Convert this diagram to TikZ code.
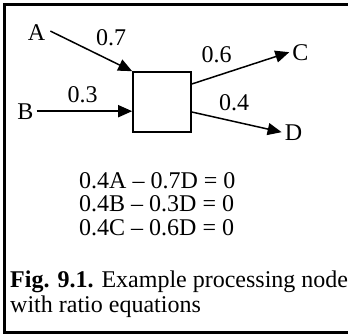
\documentclass[tikz,border=0pt]{standalone}
\usepackage{fontspec}
\setmainfont{Liberation Serif}
\usetikzlibrary{arrows.meta}

\tikzset{
  flow/.style={line width=1.5pt,-{Triangle[length=14pt,width=12pt]}},
  lbl/.style={anchor=base,inner sep=3pt,font=\fontsize{24}{26}\selectfont},
  txt/.style={anchor=base west,inner sep=0pt,font=\fontsize{24}{26}\selectfont}
}

\begin{document}
\begin{tikzpicture}[x=1pt,y=-1pt]
            \useasboundingbox (0,0) rectangle (348,335);
            \draw[line width=3.5pt] (352,4.5) -- (4.5,4.5) -- (4.5,332.5) -- (352,332.5);
            % processing node
            \node[draw,line width=1.6pt,minimum width=58pt,minimum height=60pt,inner sep=0pt] (proc) at (162,102) {};
            \node[lbl] (A) at (36.5,40) {A};
            \node[lbl] (B) at (25.5,119) {B};
            \node[lbl] (C) at (300.5,60) {C};
            \node[lbl] (D) at (293.5,140) {D};
            \draw[flow] (A.east) ++(2,-1) -- (proc.north west);
            \draw[flow] (B.east) -- (B.east -| proc.west);
            \draw[flow] ([yshift=18pt]proc.east) -- (C.west);
            \draw[flow] ([yshift=-10pt]proc.east) -- (D.west);
            \node[lbl] (wa) at (111,45) {0.7};
            \node[lbl] (wb) at (82.5,102) {0.3};
            \node[lbl] (wc) at (216.5,62) {0.6};
            \node[lbl] (wd) at (234,110) {0.4};
            % ratio equations
            \foreach \eq [count=\i] in {{0.4A -- 0.7D = 0},{0.4B -- 0.3D = 0},{0.4C -- 0.6D = 0}}
              \node[txt] (eq\i) at (79,164.5+23.5*\i) {\eq};
            \node[txt] (cap1) at (10,287) {\textbf{Fig. 9.1.} Example processing node};
            \node[txt] (cap2) at (10,312) {with ratio equations};
        \end{tikzpicture}
\end{document}
